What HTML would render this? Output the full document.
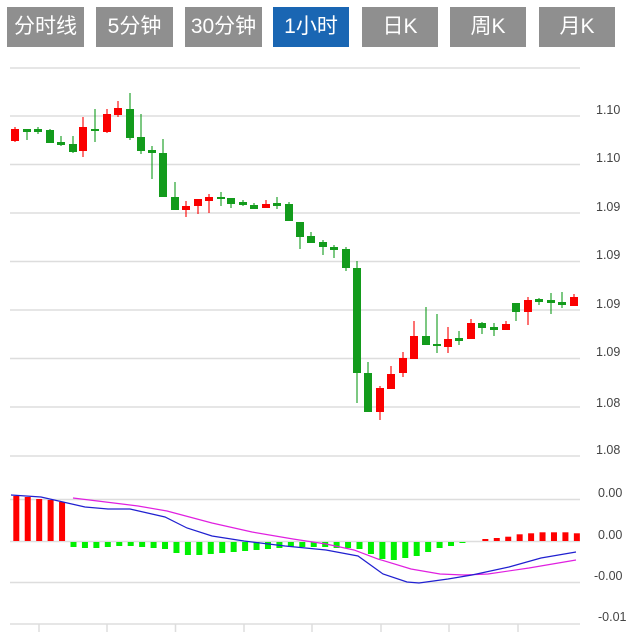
<!DOCTYPE html>
<html><head><meta charset="utf-8"><style>
body{margin:0;background:#fff;width:635px;height:632px;overflow:hidden;font-family:"Liberation Sans","Noto Sans CJK SC",sans-serif}
.b{position:absolute;top:7px;height:40px;line-height:40px;width:77px;text-align:center;color:#fff;font-size:21px;background:#8f8f8f}
svg{position:absolute;left:0;top:0}
.t{font-size:12.5px;fill:#444;font-family:"Liberation Sans",sans-serif}
</style></head><body>
<div class="b" style="left:7px">分时线</div>
<div class="b" style="left:96px">5分钟</div>
<div class="b" style="left:185px">30分钟</div>
<div class="b" style="left:273px;background:#1a66b3;width:76px">1小时</div>
<div class="b" style="left:362px;width:76px">日K</div>
<div class="b" style="left:450px;width:76px">周K</div>
<div class="b" style="left:539px;width:76px">月K</div>
<svg id="s" width="635" height="632" xmlns="http://www.w3.org/2000/svg">
<g stroke="#ddd" stroke-width="1.5">
<line x1="10" x2="580" y1="68" y2="68"/><line x1="10" x2="580" y1="116" y2="116"/><line x1="10" x2="580" y1="164.5" y2="164.5"/><line x1="10" x2="580" y1="213" y2="213"/><line x1="10" x2="580" y1="261.5" y2="261.5"/><line x1="10" x2="580" y1="310" y2="310"/><line x1="10" x2="580" y1="358.5" y2="358.5"/><line x1="10" x2="580" y1="407" y2="407"/><line x1="10" x2="580" y1="456" y2="456"/>
<line x1="10" x2="580" y1="499.5" y2="499.5"/><line x1="10" x2="580" y1="541.5" y2="541.5"/><line x1="10" x2="580" y1="582.5" y2="582.5"/><line x1="10" x2="580" y1="624" y2="624"/>
<line x1="39" x2="39" y1="624" y2="632"/><line x1="107" x2="107" y1="624" y2="632"/><line x1="175.5" x2="175.5" y1="624" y2="632"/><line x1="244" x2="244" y1="624" y2="632"/><line x1="312" x2="312" y1="624" y2="632"/><line x1="381" x2="381" y1="624" y2="632"/><line x1="449" x2="449" y1="624" y2="632"/><line x1="518" x2="518" y1="624" y2="632"/>
</g>
<g class="t">
<text x="596" y="114">1.10</text><text x="596" y="162">1.10</text><text x="596" y="211">1.09</text><text x="596" y="259">1.09</text><text x="596" y="308">1.09</text><text x="596" y="356">1.09</text><text x="596" y="407">1.08</text><text x="596" y="454">1.08</text>
<text x="598" y="497">0.00</text><text x="598" y="539">0.00</text><text x="594" y="580">-0.00</text><text x="598" y="621">-0.01</text>
</g>
<g id="c"></g>
<polyline fill="none" stroke="#e020e0" stroke-width="1.2" points="73,498 122,504 138,506 167,511 212,523 252,532 293,539 326,544 354,550 378,559 411,569 440,574 464,575 488,574 529,568 576,560"/>
<polyline fill="none" stroke="#2020d0" stroke-width="1.2" points="11,495 41,497 63,502 85,507 108,509 130,509 165,517 187,528 212,536 244,541 285,546 326,550 358,556 383,574 407,582 419,583 448,579 472,575 509,567 541,558 576,552"/>
</svg>
<script>
var C=[[15,129,141,127,142,1],[27,130,131,130,140,0],[38,130,131,127,134,0],[50,130,143,129,143,0],[61,142,145,136,146,0],[73,144,152,136,153,0],[83,151,127,117,157,1],[95,129,131,109,142,0],[107,132,114,109,133,1],[118,115,108,101,117,1],[130,109,138,93,140,0],[141,137,151,114,154,0],[152,150,153,146,179,0],[163,153,197,139,197,0],[175,197,210,182,210,0],[186,210,206,201,217,1],[198,206,199,199,214,1],[209,201,197,194,213,1],[221,197,199,192,206,0],[231,198,204,198,208,0],[243,203,204,200,206,0],[254,205,209,203,209,0],[266,208,204,200,208,1],[277,204,205,197,209,0],[289,204,221,202,221,0],[300,222,237,222,249,0],[311,236,243,232,243,0],[323,242,247,240,255,0],[334,247,250,245,258,0],[346,249,268,247,271,0],[357,268,373,261,403,0],[368,373,412,362,412,0],[380,412,388,386,420,1],[391,389,374,366,389,1],[403,373,358,352,377,1],[414,359,336,321,359,1],[426,336,345,307,345,0],[437,344,346,314,353,0],[448,347,339,327,353,1],[459,339,340,331,345,0],[471,339,323,319,339,1],[482,323,328,322,334,0],[494,327,330,323,336,0],[506,330,324,321,330,1],[516,303,312,303,321,0],[528,312,300,297,325,1],[539,300,301,298,305,0],[551,300,303,293,314,0],[562,302,305,292,308,0],[574,306,297,294,306,1]];
var h='';C.forEach(function(c){var col=c[5]?'#fa0000':'#139b1c';var t=Math.min(c[1],c[2]),b=Math.max(c[1],c[2]);if(b-t<2){t-=1;b+=1}
h+='<line x1="'+c[0]+'" x2="'+c[0]+'" y1="'+c[3]+'" y2="'+c[4]+'" stroke="'+col+'" stroke-width="1.3" opacity="0.85"/>';
h+='<rect x="'+(c[0]-4)+'" y="'+t+'" width="8" height="'+(b-t)+'" fill="'+col+'"/>';});
var r=[496,497,499,500,502];r.forEach(function(v,i){var x=16.3+11.44*i;h+='<rect x="'+(x-3)+'" y="'+v+'" width="6" height="'+(541-v)+'" fill="#ff0000"/>';});
var g=[547,548,548,547,546,546,547,548,549,553,555,555,554,553,552,551,550,549,548,547,547,547,547,548,548,549,554,559,560,558,556,552,548,546,543];
g.forEach(function(v,i){var x=16.3+11.44*(i+5);h+='<rect x="'+(x-3)+'" y="542" width="6" height="'+(v-542)+'" fill="#00f000"/>';});
var r2=[539,538,536.7,534.3,533.3,532.3,532.3,532.3,533.3];r2.forEach(function(v,i){var x=16.3+11.44*(i+41);h+='<rect x="'+(x-3)+'" y="'+v+'" width="6" height="'+(541-v)+'" fill="#ff0000"/>';});
document.getElementById('c').innerHTML=h;
</script>
</body></html>
